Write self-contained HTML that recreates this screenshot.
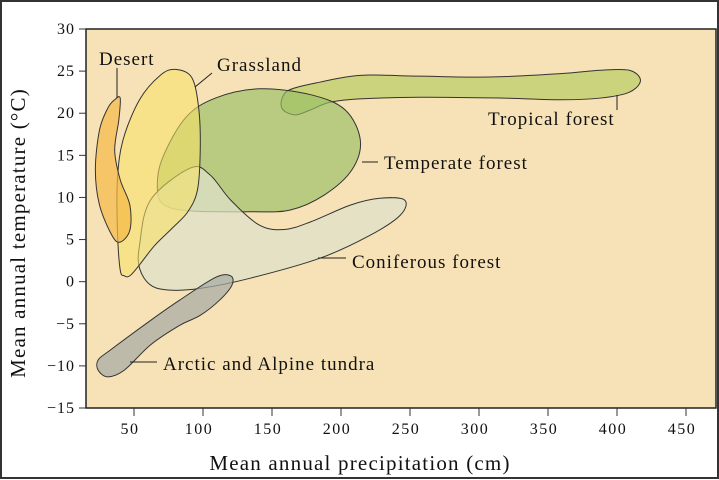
<!DOCTYPE html>
<html><head><meta charset="utf-8"><style>
html,body{margin:0;padding:0;background:#fff;}
svg{display:block;font-family:"Liberation Serif",serif;}
</style></head><body>
<svg id="chart" width="719" height="480" viewBox="0 0 719 480">
<rect x="1" y="1" width="717" height="477" fill="#fff" stroke="#333" stroke-width="2"/>
<rect x="86" y="29" width="630" height="379" fill="#f6e2b6" stroke="#222" stroke-width="1.5"/>
<g id="axes"></g>
<g id="shapes"></g>
<g id="labels" font-size="19" fill="#111" letter-spacing="1">
<text x="99" y="65">Desert</text>
<text x="217" y="71">Grassland</text>
<text x="488" y="125">Tropical forest</text>
<text x="384" y="169">Temperate forest</text>
<text x="352" y="268">Coniferous forest</text>
<text x="163" y="370">Arctic and Alpine tundra</text>
</g>
<g stroke="#222" stroke-width="1">
<line x1="117" y1="68" x2="117" y2="98"/>
<line x1="212" y1="73" x2="195" y2="87"/>
<line x1="617" y1="95" x2="617" y2="110"/>
<line x1="362" y1="162" x2="378" y2="162"/>
<line x1="318" y1="258" x2="346" y2="258"/>
<line x1="130" y1="362" x2="157" y2="362"/>
</g>
<text x="360" y="470" text-anchor="middle" font-size="21" letter-spacing="1.2" fill="#111">Mean annual precipitation (cm)</text>
<text transform="translate(25,233) rotate(-90)" text-anchor="middle" font-size="21" letter-spacing="1.2" fill="#111">Mean annual temperature (°C)</text>
</svg>
<script>
const xTicks=[50,100,150,200,250,300,350,400,450];
const yTicks=[30,25,20,15,10,5,0,-5,-10,-15];
const tropicalP=[157,163,185,214,257,308,359,388,409,417,409,388,359,315,257,214,192,178,167,158];
const tropicalT=[21.6,22.8,23.7,24.5,24.4,24.3,24.7,25.1,25.1,23.9,22.5,21.8,21.6,21.8,21.9,21.7,21.3,20.4,19.8,20.4];
const temperateP=[67,70,87,109,141,178,203,214,208,188,163,134,91,72];
const temperateT=[10.9,14.4,19.4,21.8,22.9,22.2,20.4,16.8,13.3,10.3,8.5,8.3,8.4,9.1];
const coniferP=[54,62,91,105,120,141,159,178,207,228,246,243,221,185,134,98,76,62,54];
const coniferT=[4.3,9.7,13.5,12.7,9.7,6.7,6.2,7.1,9.1,9.9,9.7,7.9,5.5,2.8,0.4,-0.8,-1.0,-0.4,1.6];
const grassP=[40,38,38,42,54,69,80,92,97,98,96,89,78,65,54,47,43];
const grassT=[1.4,6.1,12.1,16.8,21.6,24.5,25.2,24.2,20.4,15.6,10.9,8.3,6.4,4.3,2.0,0.7,0.7];
const desertP=[36,40,39,36,40,47,47,40,34,25,22,25,31];
const desertT=[21.6,21.8,19.2,15.6,12.1,9.1,6.1,4.7,5.5,9.1,13.3,18.0,20.6];
const tundraP=[24,33,62,83,109,120,121,112,98,83,62,43,31,24];
const tundraT=[-9.3,-8.1,-4.6,-2.2,0.5,0.7,-0.4,-2.2,-4.0,-5.2,-7.5,-10.5,-11.3,-10.5];

const NS='http://www.w3.org/2000/svg';
function xS(v){return 134+(v-50)*1.38;}
function yS(t){return 29+(30-t)*(379/45);}
const axes=document.getElementById('axes');
xTicks.forEach(v=>{
  const l=document.createElementNS(NS,'line');
  l.setAttribute('x1',xS(v));l.setAttribute('x2',xS(v));l.setAttribute('y1',408);l.setAttribute('y2',416);
  l.setAttribute('stroke','#333');
  
  
  axes.appendChild(l);
  const t=document.createElementNS(NS,'text');
  t.setAttribute('x',xS(v)-4);t.setAttribute('y',434);t.setAttribute('text-anchor','middle');t.setAttribute('font-size','16');t.setAttribute('letter-spacing','1.5');t.setAttribute('fill','#111');
  t.textContent=v;
  
  
  axes.appendChild(t);
});
yTicks.forEach(v=>{
  const l=document.createElementNS(NS,'line');
  l.setAttribute('x1',79);l.setAttribute('x2',86);l.setAttribute('y1',yS(v));l.setAttribute('y2',yS(v));
  l.setAttribute('stroke','#333');
  
  
  axes.appendChild(l);
  const t=document.createElementNS(NS,'text');
  t.setAttribute('x',75);t.setAttribute('y',yS(v)+5);t.setAttribute('text-anchor','end');t.setAttribute('font-size','16');t.setAttribute('letter-spacing','1');t.setAttribute('fill','#111');
  t.textContent=v<0?'\u2212'+(-v):v;
  
  
  axes.appendChild(t);
});
function smooth(P,T){
  const pts=P.map((p,i)=>[xS(p),yS(T[i])]);const n=pts.length;
  let d='M'+pts[0][0]+','+pts[0][1];
  for(let i=0;i<n;i++){
    const p0=pts[(i-1+n)%n],p1=pts[i],p2=pts[(i+1)%n],p3=pts[(i+2)%n];
    const c1=[p1[0]+(p2[0]-p0[0])/6,p1[1]+(p2[1]-p0[1])/6];
    const c2=[p2[0]-(p3[0]-p1[0])/6,p2[1]-(p3[1]-p1[1])/6];
    d+='C'+c1.join(',')+' '+c2.join(',')+' '+p2.join(',');
  }
  return d+'Z';
}
const shapes=document.getElementById('shapes');
function add(P,T,fill,name){
  const p=document.createElementNS(NS,'path');
  p.setAttribute('d',smooth(P,T));p.setAttribute('fill',fill);p.setAttribute('stroke','#333');p.setAttribute('stroke-width','1');
  
  
  shapes.appendChild(p);
}
add(tropicalP,tropicalT,'rgba(190,205,105,0.75)','tropical-forest-region');
add(temperateP,temperateT,'rgba(150,190,100,0.65)','temperate-forest-region');
add(coniferP,coniferT,'rgba(222,224,200,0.75)','coniferous-forest-region');
add(grassP,grassT,'rgba(250,225,100,0.55)','grassland-region');
add(desertP,desertT,'rgba(245,185,70,0.7)','desert-region');
add(tundraP,tundraT,'rgba(165,170,165,0.7)','tundra-region');
</script>
</body></html>
